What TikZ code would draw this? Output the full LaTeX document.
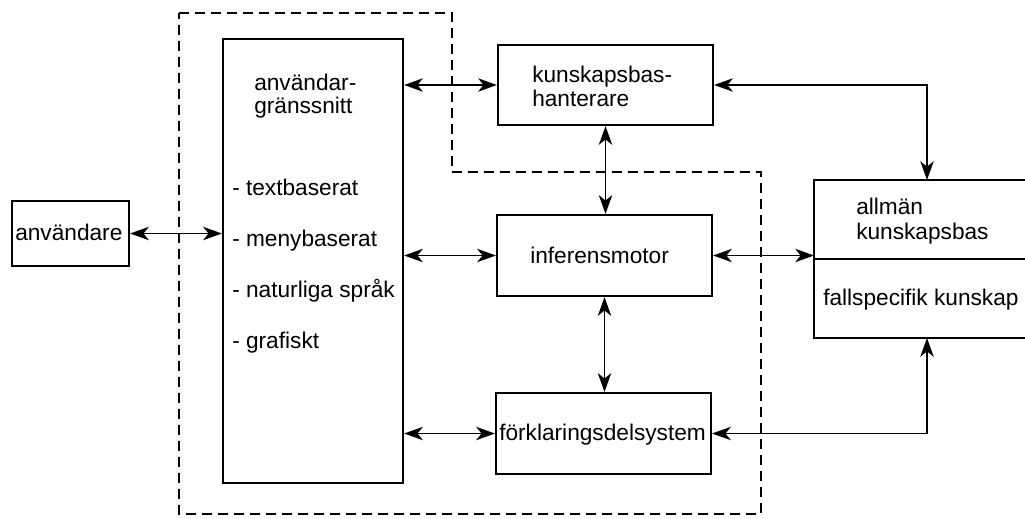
\documentclass[tikz,border=0pt]{standalone}
\usepackage{fontspec}
\setmainfont{Liberation Sans}
\usetikzlibrary{arrows.meta,fit}
\begin{document}
\begin{tikzpicture}[x=0.75pt,y=-0.75pt,
  every node/.style={font=\fontsize{17}{18}\selectfont},
  box/.style={draw,line width=1.7pt,inner sep=0pt},
  txt/.style={inner sep=0pt,anchor=base west},
  dbl/.style={line width=1.4pt,{Stealth[length=14pt,width=10pt,inset=4pt]}-{Stealth[length=14pt,width=10pt,inset=4pt]}},
  sysbound/.style={line width=1.4pt,dash pattern=on 7.5pt off 4.5pt}]
\useasboundingbox (0,0) rectangle (1025,518);

% system boundary (dashed)
\draw[sysbound] (179,13) -- (452,13) -- (452,172) -- (761,172) -- (761,514) -- (179,514) -- cycle;

% user
\coordinate (a1) at (12,201); \coordinate (a2) at (129,266);
\node[box,fit=(a1)(a2)] (anv) {};
\node[txt] (anvt) at (15,240) {användare};

% user interface
\coordinate (u1) at (223,39); \coordinate (u2) at (403,483);
\node[box,fit=(u1)(u2)] (ui) {};
\node[txt] (uit1) at (254,90) {användar-};
\node[txt] (uit2) at (254,113) {gränssnitt};
\node[txt] (uil1) at (232,195) {- textbaserat};
\node[txt] (uil2) at (232,246) {- menybaserat};
\node[txt] (uil3) at (232,297) {- naturliga språk};
\node[txt] (uil4) at (232,348) {- grafiskt};

% knowledge base manager
\coordinate (k1) at (498,45); \coordinate (k2) at (713,125);
\node[box,fit=(k1)(k2)] (kb) {};
\node[txt] (kbt1) at (532,82) {kunskapsbas-};
\node[txt] (kbt2) at (532,106) {hanterare};

% inference engine
\coordinate (i1) at (497,215); \coordinate (i2) at (712,296);
\node[box,fit=(i1)(i2)] (inf) {};
\node[txt] (inft) at (530,263) {inferensmotor};

% explanation subsystem
\coordinate (f1) at (496,393); \coordinate (f2) at (711,474);
\node[box,fit=(f1)(f2)] (fk) {};
\node[txt] (fkt) at (499,440) {förklaringsdelsystem};

% knowledge base (open on the right, cut by the page edge)
\draw[line width=1.7pt] (1026,180) -- (814,180) -- (814,338) -- (1026,338);
\draw[line width=1.7pt] (814,259) -- (1026,259);
\coordinate (rtop) at (927,180);
\coordinate (rbot) at (927,338);
\coordinate (rleft) at (814,259);
\node[txt] (rt1) at (856,214) {allmän};
\node[txt] (rt2) at (856,239) {kunskapsbas};
\node[txt] (rt3) at (823,305) {fallspecifik kunskap};

% connectors
\draw[dbl] (anv.east) -- (anv.east -| ui.west);
\draw[dbl] (kb.west -| ui.east) -- (kb.west);
\draw[dbl] (inf.west -| ui.east) -- (inf.west);
\draw[dbl] (fk.west -| ui.east) -- (fk.west);
\draw[dbl] (kb.east) -| (rtop);
\draw[dbl] (inf.east) -- (inf.east -| rleft);
\draw[dbl] (fk.east) -| (rbot);
\draw[dbl] (kb.south) -- (kb.south |- inf.north);
\draw[dbl] (inf.south) -- (inf.south |- fk.north);
\end{tikzpicture}
\end{document}
